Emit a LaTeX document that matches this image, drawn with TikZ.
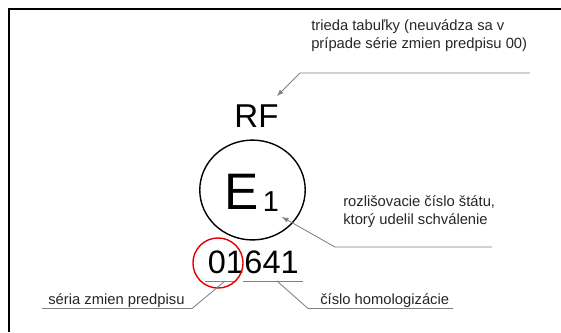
\documentclass[tikz,border=0pt]{standalone}
\usepackage{fontspec}
\setmainfont{Liberation Sans}
\usepackage{xcolor}
\usepackage{tikz}

\begin{document}
\begin{tikzpicture}%
                [x={(0.025cm, 0cm)},
                y={(0cm, -0.025cm)},
                frame/.style={color=black, line width=1.6pt},
                leader/.style={color=black!50, line width=0.6pt},
                pointer/.style={leader, -latex},
                ring/.style={draw=black, line width=1pt},
                seriesring/.style={circle, draw=red!90!black, line width=1pt, minimum size=35.6pt, inner sep=0pt},
                note/.style={anchor=base west, inner sep=0pt, align=left, color=black!85,
                             font=\fontsize{10.5}{12.8}\selectfont},
                glyph/.style={anchor=base, inner sep=0pt, color=black}]

            %% Frame and bounding box
            \useasboundingbox (0,0) rectangle (561,332);
            \draw[frame] (9,332) -- (9,9) -- (561,9);
            %% The approval mark
            \node[glyph, font=\fontsize{23.5}{23.5}\selectfont] (rf) at (256.5,127) {RF};
            \coordinate (stamp) at (252.5,190);
            \draw[ring] (stamp) ellipse [x radius=37.5pt, y radius=35.5pt];
            \node[glyph, font=\fontsize{36.5}{36.5}\selectfont] (e) at (242,209) {E};
            \node[glyph, font=\fontsize{20.5}{20.5}\selectfont] (e1) at (271,211) {1};
            \node[glyph, anchor=base west, font=\fontsize{23.1}{23.1}\selectfont] (series) at (207.5,273.5) {01};
            \node[glyph, anchor=base west, font=\fontsize{23.1}{23.1}\selectfont] (homol) at (series.base east) {641};
            \node[seriesring] (redring) at (218,263) {};
            %%
            %% Texts of the notes
            %%
            \node[note] (tabnote) at (311,48) {trieda tabuľky (neuvádza sa v\\prípade série zmien predpisu 00)};
            \node[note] (statenote) at (343,224) {rozlišovacie číslo štátu,\\ktorý udelil schválenie};
            \node[note] (seriesnote) at (48,304) {séria zmien predpisu};
            \node[note] (homolnote) at (320,304) {číslo homologizácie};
            %%
            %% Leaders
            %%
            \coordinate (tabbend) at (300,73);
            \coordinate (tabtip) at (277,96);
            \coordinate (statebend) at (335,247);
            \coordinate (statetip) at (282,217);
            \coordinate (seriesbend) at (192,308.5);
            \coordinate (seriesfoot) at (225,281);
            \coordinate (homolbend) at (308,308.5);
            \coordinate (homolfoot) at (277,281);
            \draw[pointer] (530,73) -- (tabbend) -- (tabtip);
            \draw[pointer] (492,247) -- (statebend) -- (statetip);
            \draw[leader] (205,281) -- (234,281);
            \draw[leader] (243,281) -- (303,281);
            \draw[leader] (seriesfoot) -- (seriesbend) -- (42,308.5);
            \draw[leader] (homolfoot) -- (homolbend) -- (453,308.5);
\end{tikzpicture}
\end{document}
